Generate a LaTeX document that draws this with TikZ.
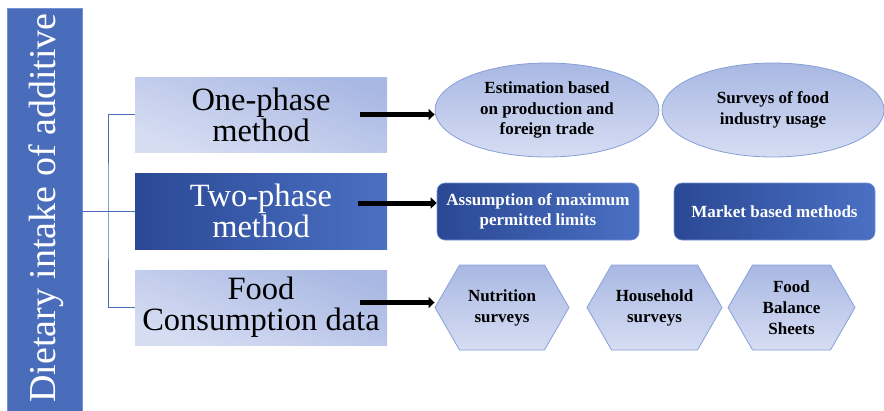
\documentclass[tikz,border=0pt]{standalone}
\usepackage{fontspec}
\setmainfont{Liberation Serif}
\newfontfamily\tnr{Liberation Serif}
\usetikzlibrary{shapes.geometric,shapes.symbols,arrows.meta}
\definecolor{barblue}{HTML}{4A6DBB}
\definecolor{barrim}{HTML}{7390D2}
\definecolor{lightA}{HTML}{A9B8E3}
\definecolor{lightB}{HTML}{D6DDF3}
\definecolor{darkA}{HTML}{2A4894}
\definecolor{darkB}{HTML}{4B70C3}
\definecolor{rimblue}{HTML}{86A0D8}
\definecolor{linkblue}{HTML}{4A6DBB}
\tikzset{
  x=1pt, y=-1pt,
  lightbox/.style={rectangle, top color=lightA, bottom color=lightB, shading angle=-20,
    minimum width=252pt, minimum height=75pt, align=center, inner sep=0pt,
    font=\tnr\fontsize{32.5}{31}\selectfont, text=black},
  darkbox/.style={rectangle, left color=darkA, right color=darkB,
    minimum width=252pt, minimum height=76pt, align=center, inner sep=0pt,
    font=\tnr\fontsize{32.5}{31}\selectfont, text=white},
  oval/.style={ellipse, draw=rimblue, line width=0.8pt, top color=lightA, bottom color=lightB,
    minimum width=224pt, minimum height=94pt, inner sep=0pt, align=center,
    font=\tnr\bfseries\fontsize{17}{20.5}\selectfont},
  roundbox/.style={rectangle, rounded corners=8pt, draw=rimblue!70!darkB, line width=0.6pt,
    left color=darkA, right color=darkB, minimum height=57pt, inner sep=0pt,
    align=center, text=white, font=\tnr\bfseries\fontsize{17}{20.5}\selectfont},
  hexa/.style={signal, signal to=east and west, signal pointer angle=120,
    draw=rimblue, line width=0.8pt, top color=lightA, bottom color=lightB,
    minimum height=85pt, inner sep=0pt, align=center,
    font=\tnr\bfseries\fontsize{17}{21}\selectfont},
  bracket/.style={draw=linkblue, line width=0.8pt},
  arr/.style={line width=5pt, -{Triangle[length=6pt,width=11pt]}},
}
\begin{document}
\begin{tikzpicture}
\useasboundingbox (0,0) rectangle (884,410);
\fill[white] (0,0) rectangle (884,410);

% vertical title bar
\node[rectangle, fill=barblue, draw=barrim, line width=0.8pt, minimum width=75pt,
      minimum height=406pt, inner sep=0pt] (bar) at (44.5,211) {};
\node[rotate=90, text=white, font=\tnr\fontsize{38}{40}\selectfont, inner sep=0pt]
      (title) at (46,208) {Dietary intake of additive};

% method boxes
\node[lightbox] (one) at (261,114.5) {One-phase\\method};
\node[darkbox]  (two) at (261,211) {Two-phase\\method};
\node[lightbox] (food) at (261,307.5) {Food\\Consumption data};

% bracket joining the title to the methods
\coordinate (jx) at (108,211);
\draw[bracket] (bar.east |- two.west) -- (two.west);
\draw[bracket] (one.west) -| (jx) |- (food.west);

% first row: ellipses
\node[oval] (est) at (547,110) {Estimation based\\on production and\\foreign trade};
\node[oval, minimum width=222pt] (surv) at (773,110) {Surveys of food\\industry usage};

% second row: rounded boxes
\node[roundbox, minimum width=202pt] (assume) at (538,211.5) {Assumption of maximum\\permitted limits};
\node[roundbox, minimum width=201pt] (market) at (774.5,211.5) {Market based methods};

% third row: hexagons
\node[hexa, minimum width=134pt] (nutr) at (502,307.5) {Nutrition\\surveys};
\node[hexa, minimum width=135pt] (house) at (654.5,307.5) {Household\\surveys};
\node[hexa, minimum width=127pt] (fbs) at (791.5,307.5) {Food\\Balance\\Sheets};

% arrows from methods to their techniques
\coordinate (a1) at ([xshift=-27pt]one.east);
\coordinate (a2) at ([xshift=-29pt,yshift=8pt]two.east);
\coordinate (a3) at ([xshift=-27pt,yshift=5pt]food.east);
\draw[arr] (a1) -- (est.west |- a1);
\draw[arr] (a2) -- (assume.west |- a2);
\draw[arr] (a3) -- (nutr.west |- a3);
\end{tikzpicture}
\end{document}
